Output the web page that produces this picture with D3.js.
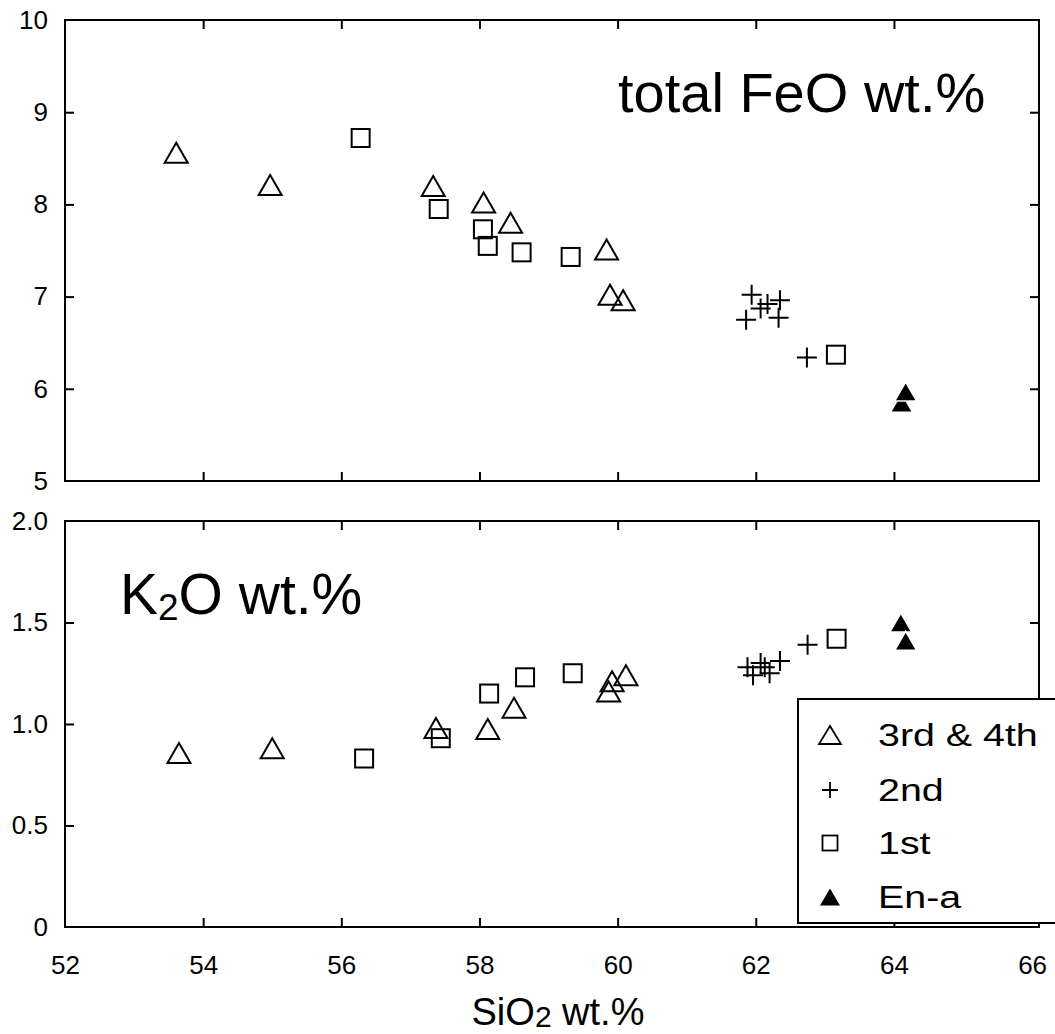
<!DOCTYPE html>
<html><head><meta charset="utf-8">
<script src="https://cdn.jsdelivr.net/npm/d3@7"></script>
<style>body{margin:0;background:#fff} svg{display:block} text{font-family:"Liberation Sans",Arial,sans-serif;fill:#000}</style>
</head><body><svg id="c" width="1055" height="1034"></svg>
<script>
// ---- tick values / labels ----
const xTickValues = [52,54,56,58,60,62,64,66];
const xMarkValues = [54,56,58,60,62,64];
const feoTickValues = [5,6,7,8,9,10];
const feoMarkValues = [6,7,8,9];
const k2oTickValues = [0,0.5,1.0,1.5,2.0];
const k2oTickLabels = ["0","0.5","1.0","1.5","2.0"];
const k2oMarkValues = [0.5,1.0,1.5];
const seriesNames = ["3rd & 4th","2nd","1st","En-a"];

// ---- total FeO panel: [SiO2, FeO] ----
const feo3rd4th = [[53.61,8.56],[54.97,8.21],[57.33,8.20],[58.06,8.02],[58.45,7.80],[59.84,7.51],[59.89,7.02],[60.08,6.96]];
const feo2nd    = [[61.94,7.02],[61.86,6.75],[62.07,6.87],[62.17,6.92],[62.35,6.96],[62.33,6.77],[62.74,6.34]];
const feo1st    = [[56.28,8.72],[57.41,7.95],[58.05,7.73],[58.12,7.55],[58.61,7.48],[59.32,7.43],[63.16,6.37]];
const feoEnA    = [[64.11,5.85],[64.17,5.97]];

// ---- K2O panel: [SiO2, K2O] ----
const k2o3rd4th = [[53.65,0.857],[55.00,0.88],[57.37,0.98],[58.12,0.975],[58.50,1.08],[59.87,1.16],[59.92,1.21],[60.12,1.24]];
const k2o2nd    = [[61.88,1.28],[61.96,1.24],[62.07,1.30],[62.13,1.28],[62.20,1.25],[62.35,1.31],[62.75,1.39]];
const k2o1st    = [[56.33,0.83],[57.44,0.93],[58.14,1.15],[58.66,1.23],[59.35,1.25],[63.17,1.42]];
const k2oEnA    = [[64.10,1.50],[64.17,1.41]];

const svg = d3.select("#c");
const L = 65, R = 1039;
const x = d3.scaleLinear([52, 66.1], [L, R]);
const yFeo = d3.scaleLinear([5, 10], [481, 20]);
const yK = d3.scaleLinear([0, 2], [927, 521]);

const tri = (w,h) => `M0,${-h/2}L${w/2},${h/2}L${-w/2},${h/2}Z`;
const plus = s => `M${-s},0H${s}M0,${-s}V${s}`;

function styleAxis(g){
  g.select(".domain").remove();
  g.selectAll("line").attr("stroke","#000").attr("stroke-width",2);
  g.selectAll("text").attr("font-family",'"Liberation Sans",Arial,sans-serif').attr("font-size",26).attr("fill","#000");
  g.attr("font-family",null).attr("font-size",null);
}

function panel(y, top, bottom, markY, tickVals, tickFmt, showXLabels){
  svg.append("g").attr("transform",`translate(0,${bottom})`)
    .call(d3.axisBottom(x).tickValues(xMarkValues).tickSize(-9).tickFormat("")).call(styleAxis);
  svg.append("g").attr("transform",`translate(0,${top})`)
    .call(d3.axisTop(x).tickValues(xMarkValues).tickSize(-9).tickFormat("")).call(styleAxis);
  svg.append("g").attr("transform",`translate(${L},0)`)
    .call(d3.axisLeft(y).tickValues(markY).tickSize(-9).tickFormat("")).call(styleAxis);
  svg.append("g").attr("transform",`translate(${R},0)`)
    .call(d3.axisRight(y).tickValues(markY).tickSize(-9).tickFormat("")).call(styleAxis);
  svg.append("g").attr("transform",`translate(${L},0)`)
    .call(d3.axisLeft(y).tickValues(tickVals).tickSize(0).tickPadding(17).tickFormat(tickFmt)).call(styleAxis);
  if(showXLabels){
    svg.append("g").attr("transform",`translate(0,${bottom})`)
      .call(d3.axisBottom(x).tickValues(xTickValues).tickSize(0).tickPadding(29).tickFormat(d3.format("d"))).call(styleAxis);
  }
  svg.append("rect").attr("x",L).attr("y",top).attr("width",R-L).attr("height",bottom-top)
    .attr("fill","none").attr("stroke","#000").attr("stroke-width",2);
}

function drawPoints(y, s34, s2, s1, sEnA){
  const g = svg.append("g");
  g.selectAll(".t").data(s34).join("path")
    .attr("transform",d=>`translate(${x(d[0])},${y(d[1])})`).attr("d",tri(23,20))
    .attr("fill","none").attr("stroke","#000").attr("stroke-width",2);
  g.selectAll(".s").data(s1).join("rect")
    .attr("x",d=>x(d[0])-9).attr("y",d=>y(d[1])-9).attr("width",18).attr("height",18)
    .attr("fill","none").attr("stroke","#000").attr("stroke-width",2);
  g.selectAll(".p").data(s2).join("path")
    .attr("transform",d=>`translate(${x(d[0])},${y(d[1])})`).attr("d",plus(10))
    .attr("fill","none").attr("stroke","#000").attr("stroke-width",2);
  g.selectAll(".f").data(sEnA).join("path")
    .attr("transform",d=>`translate(${x(d[0])},${y(d[1])})`).attr("d",tri(22,19))
    .attr("fill","#000").attr("stroke","#fff").attr("stroke-width",1.5);
}

panel(yFeo, 20, 481, feoMarkValues, feoTickValues, d3.format("d"), false);
drawPoints(yFeo, feo3rd4th, feo2nd, feo1st, feoEnA);
panel(yK, 521, 927, k2oMarkValues, k2oTickValues, (d,i)=>k2oTickLabels[i], true);
drawPoints(yK, k2o3rd4th, k2o2nd, k2o1st, k2oEnA);

// panel titles
svg.append("text").attr("x",618).attr("y",112).attr("font-size",56).text("total FeO wt.%");
const kt = svg.append("text").attr("x",120).attr("y",614).attr("font-size",57);
kt.append("tspan").text("K");
kt.append("tspan").attr("font-size",37).attr("dy",6).text("2");
kt.append("tspan").attr("dy",-6).text("O wt.%");

// x axis title
const xt = svg.append("text").attr("x",558).attr("y",1025).attr("font-size",38).attr("text-anchor","middle");
xt.append("tspan").text("SiO");
xt.append("tspan").attr("font-size",30).attr("dy",2).text("2");
xt.append("tspan").attr("dy",-2).text(" wt.%");

// legend
const lg = svg.append("g");
lg.append("rect").attr("x",798).attr("y",699).attr("width",280).attr("height",224)
  .attr("fill","#fff").attr("stroke","#000").attr("stroke-width",2);
const rowsY = [735,790,843,897];
const lx = 830;
lg.append("path").attr("transform",`translate(${lx},${rowsY[0]})`).attr("d",tri(22,18))
  .attr("fill","none").attr("stroke","#000").attr("stroke-width",1.8);
lg.append("path").attr("transform",`translate(${lx},${rowsY[1]})`).attr("d",plus(8))
  .attr("fill","none").attr("stroke","#000").attr("stroke-width",1.8);
lg.append("rect").attr("x",lx-7.5).attr("y",rowsY[2]-7.5).attr("width",15).attr("height",15)
  .attr("fill","none").attr("stroke","#000").attr("stroke-width",1.8);
lg.append("path").attr("transform",`translate(${lx},${rowsY[3]})`).attr("d",tri(20,17)).attr("fill","#000");
lg.selectAll("text.lt").data(seriesNames).join("text")
  .attr("transform",(d,i)=>`translate(878,${rowsY[i]}) scale(1.27,1)`)
  .attr("dy","0.36em").attr("font-size",31).text(d=>d);
</script></body></html>
